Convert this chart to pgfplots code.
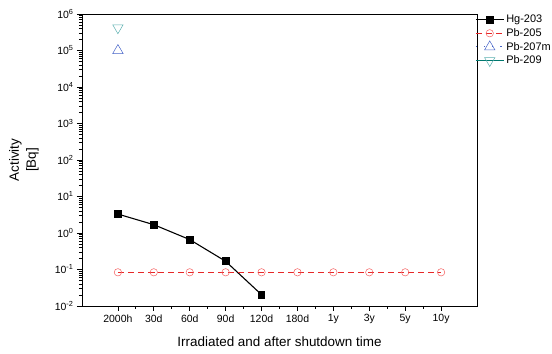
\documentclass[border=0pt]{standalone}
\usepackage{pgfplots}
\pgfplotsset{compat=1.18}
\usepackage{fontspec}
\setmainfont{Liberation Sans}
\definecolor{pbred}{RGB}{230,40,40}
\definecolor{pbredmark}{RGB}{245,95,95}
\definecolor{pbblue}{RGB}{70,100,200}
\definecolor{pbteal}{RGB}{0,120,110}
\definecolor{pbtealmark}{RGB}{90,175,175}
\begin{document}
\begin{tikzpicture}
\useasboundingbox (-82bp,-48bp) rectangle (470bp,306bp);
\begin{axis}[
  anchor=south west, at={(0,0)},
  scale only axis, width=395bp, height=292bp,
  ymode=log, log basis y=10,
  xmin=-1, xmax=10, ymin=1e-2, ymax=1e6,
  xtick={0,...,9},
  xticklabels={2000h,30d,60d,90d,120d,180d,1y,3y,5y,10y},
  minor x tick num=1,
  ytick={1e-2,1e-1,1,1e1,1e2,1e3,1e4,1e5,1e6},
  yticklabels={10\textsuperscript{-2},10\textsuperscript{-1},10\textsuperscript{0},10\textsuperscript{1},10\textsuperscript{2},10\textsuperscript{3},10\textsuperscript{4},10\textsuperscript{5},10\textsuperscript{6}},
  minor ytick={0.02,0.03,0.04,0.05,0.06,0.07,0.08,0.09,
    0.2,0.3,0.4,0.5,0.6,0.7,0.8,0.9,
    2,3,4,5,6,7,8,9,
    20,30,40,50,60,70,80,90,
    200,300,400,500,600,700,800,900,
    2000,3000,4000,5000,6000,7000,8000,9000,
    20000,30000,40000,50000,60000,70000,80000,90000,
    200000,300000,400000,500000,600000,700000,800000,900000},
  tick align=outside, tick pos=left,
  major tick length=5bp, minor tick length=3bp,
  tick style={black, line width=0.8pt},
  axis line style={line width=0.8pt},
  ticklabel style={font=\fontsize{10.5}{12}\selectfont},
  xlabel={Irradiated and after shutdown time},
  ylabel={Activity\\{[Bq]}},
  ylabel style={at={(axis description cs:-0.147,0.5)}, anchor=center,
    align=center, font=\fontsize{13.5}{17}\selectfont},
  xlabel style={at={(axis description cs:0.5,-0.122)}, anchor=center,
    font=\fontsize{13.5}{16}\selectfont},
  legend style={at={(axis description cs:1,1)}, anchor=north west,
    xshift=-2bp, yshift=1bp, draw=none, fill=none, inner xsep=0pt, inner ysep=0pt,
    font=\fontsize{11}{12}\selectfont, row sep=0.2bp,
    nodes={inner xsep=2bp, inner ysep=2bp}},
  legend cell align=left,
  legend image code/.code={
    \draw[#1] (0bp,0bp) -- (28bp,0bp);
    \draw[#1, only marks] plot coordinates {(14bp,0bp)};
  },
]
\addplot[black, line width=1.1pt, mark=square*, mark size=3.4bp, mark options={solid, fill=black}]
  coordinates {(0,3.3) (1,1.69) (2,0.66) (3,0.168) (4,0.0204)};
\addlegendentry{Hg-203}
\addplot[pbred, dash pattern=on 6bp off 4bp, line width=1.1pt, mark=o, mark size=3.7bp, mark options={solid, draw=pbredmark, fill=white, line width=0.5pt}]
  coordinates {(0,0.0838) (1,0.0838) (2,0.0838) (3,0.0838) (4,0.0838) (5,0.0838) (6,0.0838) (7,0.0838) (8,0.0838) (9,0.0838)};
\addlegendentry{Pb-205}
\addplot[pbblue, dash pattern=on 1.2bp off 7bp, line width=1.1pt, mark=triangle, mark size=6bp, mark options={solid, line width=0.5pt}]
  coordinates {(0,1.0e5)};
\addlegendentry{Pb-207m}
\addplot[pbteal, line width=1.1pt, mark=triangle, mark size=6bp, mark options={solid, rotate=180, draw=pbtealmark, line width=0.5pt}]
  coordinates {(0,4.2e5)};
\addlegendentry{Pb-209}
\end{axis}
\end{tikzpicture}
\end{document}
